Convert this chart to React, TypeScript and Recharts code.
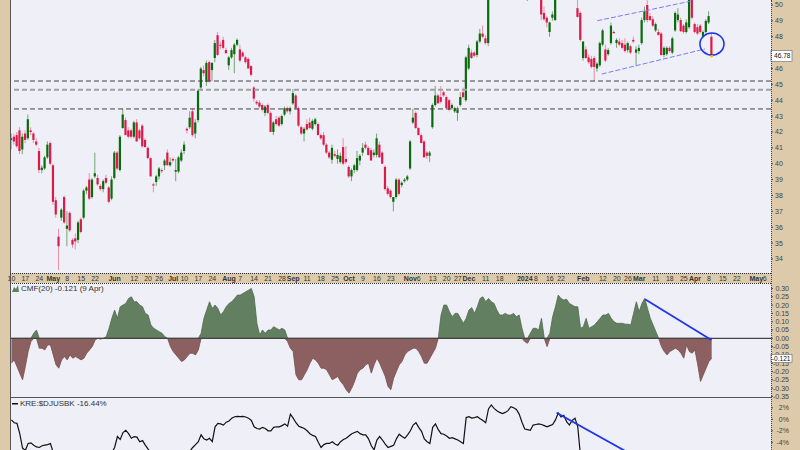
import React from "react";
import {
  Area,
  Bar,
  ComposedChart,
  Line,
  ReferenceDot,
  ReferenceLine,
  XAxis,
  YAxis,
} from "recharts";

// daily candles Apr 10 2023 .. Apr 9 2024 : [open, high, low, close]
const OHLC: [number, number, number, number][] = [
  // 0
  [41.5, 41.9, 40.9, 41.6], [41.7, 41.9, 41.2, 41.4], [41.8, 42.0, 41.0, 41.1], [42.1, 42.3, 40.6, 40.8], [40.9, 41.9, 40.6, 41.7],
  [41.9, 42.1, 41.3, 41.5], [41.6, 43.1, 41.5, 42.8], [42.1, 42.3, 41.8, 42.0], [41.9, 42.0, 41.3, 41.5], [41.4, 41.6, 41.1, 41.2],
  // 10
  [40.8, 41.0, 39.4, 39.6], [39.6, 39.9, 39.4, 39.75], [39.7, 40.5, 39.6, 40.4], [40.4, 41.4, 40.3, 41.2], [41.3, 41.4, 39.9, 40.0],
  [39.9, 40.0, 37.4, 37.6], [37.7, 37.9, 36.6, 36.8], [35.4, 35.9, 33.3, 34.8], [36.6, 37.2, 36.4, 37.1], [37.9, 38.0, 36.2, 36.3],
  // 20
  [35.9, 37.0, 34.8, 36.1], [36.9, 37.0, 35.7, 35.8], [35.2, 35.3, 34.7, 34.9], [35.3, 35.6, 34.6, 35.1], [35.2, 36.4, 35.0, 36.3],
  [36.5, 36.6, 35.6, 35.7], [36.6, 38.4, 36.5, 38.3], [38.3, 38.6, 38.1, 38.5], [39.0, 39.4, 37.7, 37.8], [37.9, 39.1, 37.8, 39.0],
  // 30
  [39.2, 40.7, 39.1, 39.4], [39.1, 39.3, 38.6, 38.7], [38.6, 38.7, 38.3, 38.4], [38.4, 39.0, 38.2, 38.9], [39.1, 39.3, 38.7, 38.8],
  [38.5, 38.6, 37.5, 37.6], [37.8, 39.2, 37.7, 39.0], [39.1, 40.8, 39.0, 40.7], [40.7, 40.8, 39.6, 39.7], [39.6, 41.8, 39.5, 41.7],
  // 40
  [42.25, 43.45, 42.2, 43.1], [42.75, 42.9, 41.8, 41.8], [42.1, 42.3, 41.6, 41.7], [42.1, 42.2, 41.6, 41.7], [41.7, 42.7, 41.6, 42.6],
  [42.6, 42.8, 41.4, 41.4], [42.1, 42.2, 41.5, 41.6], [42.4, 42.5, 41.0, 41.1], [41.5, 41.6, 41.0, 41.05], [41.0, 41.1, 40.3, 40.35],
  // 50
  [40.35, 40.4, 39.2, 39.2], [38.7, 38.8, 38.2, 38.65], [38.85, 39.3, 38.6, 39.2], [39.2, 39.8, 39.0, 39.7], [39.6, 39.7, 39.4, 39.55],
  [39.9, 40.3, 39.6, 40.2], [40.7, 40.9, 39.9, 39.9], [39.9, 40.4, 39.8, 40.1], [40.3, 40.4, 40.1, 40.2], [39.5, 40.3, 38.9, 39.6],
  // 60
  [39.5, 40.5, 39.4, 40.4], [40.2, 40.9, 40.1, 40.7], [40.8, 41.4, 40.6, 41.2], [42.2, 42.3, 41.9, 42.1], [42.3, 43.3, 42.2, 42.9],
  [43.3, 43.5, 41.7, 41.8], [41.9, 42.8, 41.6, 42.6], [42.75, 44.7, 42.6, 44.6], [44.8, 46.1, 44.6, 46.0], [45.9, 46.2, 45.5, 45.7],
  // 70
  [45.15, 46.5, 44.9, 46.35], [46.4, 46.5, 45.1, 45.2], [45.9, 46.4, 45.2, 46.35], [46.66, 47.8, 46.4, 47.6], [48.1, 48.3, 46.8, 46.85],
  [47.5, 47.7, 47.2, 47.45], [47.8, 48.0, 47.2, 47.3], [47.16, 47.3, 46.9, 46.97], [46.2, 46.8, 45.9, 46.7], [46.7, 47.3, 46.6, 47.16],
  // 80
  [46.9, 47.6, 45.7, 47.5], [47.5, 47.9, 47.4, 47.8], [47.2, 47.5, 46.4, 46.5], [47.0, 47.1, 46.7, 46.75], [46.7, 46.8, 46.3, 46.4],
  [46.6, 46.7, 46.0, 46.0], [46.15, 46.2, 45.5, 45.6], [44.8, 44.9, 43.9, 44.1], [43.9, 44.0, 43.7, 43.8], [43.85, 44.0, 43.5, 43.6],
  // 90
  [43.7, 43.8, 43.3, 43.4], [43.2, 43.7, 43.0, 43.6], [43.7, 43.8, 43.1, 43.2], [43.2, 43.3, 42.0, 42.0], [42.0, 42.7, 41.8, 42.6],
  [42.8, 43.0, 42.4, 42.5], [42.9, 43.0, 42.3, 42.4], [42.5, 43.1, 42.4, 43.0], [43.1, 43.6, 43.0, 43.5], [43.5, 43.6, 43.2, 43.3],
  // 100
  [43.3, 43.6, 43.1, 43.5], [43.8, 44.7, 43.7, 44.45], [44.3, 44.4, 43.4, 43.5], [43.5, 43.6, 42.3, 42.4], [42.3, 42.4, 41.8, 41.9],
  [41.9, 42.3, 41.4, 42.2], [42.5, 42.8, 42.1, 42.15], [42.6, 42.9, 42.2, 42.25], [42.2, 42.8, 42.1, 42.7], [42.5, 42.9, 42.4, 42.8],
  // 110
  [42.5, 42.6, 41.8, 41.8], [41.8, 41.9, 41.5, 41.6], [41.8, 42.0, 41.1, 41.2], [41.2, 41.3, 40.6, 40.7], [40.7, 40.8, 40.3, 40.4],
  [40.25, 41.2, 40.0, 41.0], [40.6, 40.8, 40.4, 40.5], [40.3, 40.9, 40.0, 40.55], [40.1, 40.7, 40.0, 40.5], [41.05, 41.6, 39.9, 40.0],
  // 120
  [40.3, 41.1, 40.0, 40.1], [39.8, 39.9, 39.1, 39.2], [39.2, 39.7, 38.9, 39.6], [39.6, 40.0, 39.4, 39.9], [39.6, 40.8, 39.5, 40.35],
  [40.2, 40.6, 39.9, 40.5], [40.7, 41.3, 40.5, 41.0], [41.2, 41.4, 40.9, 41.0], [41.0, 41.1, 40.5, 40.55], [40.85, 41.0, 40.2, 40.2],
  // 130
  [40.55, 40.9, 40.4, 40.7], [40.55, 41.9, 40.4, 41.6], [41.2, 41.4, 40.4, 40.4], [40.7, 40.8, 40.0, 40.0], [39.8, 39.9, 38.3, 38.4],
  [38.45, 38.6, 38.0, 38.1], [38.3, 38.4, 37.8, 37.9], [37.6, 37.9, 37.0, 37.9], [37.9, 39.1, 37.8, 39.0], [39.0, 39.1, 38.0, 38.1],
  // 140
  [38.65, 38.9, 38.5, 38.8], [38.9, 39.1, 38.8, 39.0], [39.0, 39.3, 38.9, 39.2], [39.7, 41.5, 39.6, 41.4], [42.6, 43.45, 42.5, 42.9],
  [43.2, 43.3, 42.2, 42.25], [42.25, 42.3, 41.8, 41.8], [41.8, 41.9, 41.3, 41.3], [41.4, 41.5, 40.4, 40.4], [40.7, 40.8, 40.3, 40.5],
  // 150
  [40.5, 40.8, 40.1, 40.7], [42.3, 43.8, 42.2, 43.7], [43.7, 44.9, 43.6, 44.3], [44.3, 44.4, 43.8, 43.8], [44.2, 44.9, 43.8, 43.9],
  [44.5, 44.6, 44.2, 44.3], [44.2, 44.3, 43.5, 43.5], [44.0, 44.1, 43.3, 43.4], [43.5, 43.8, 43.4, 43.7], [43.3, 43.6, 43.2, 43.5],
  // 160
  [43.2, 43.6, 42.7, 43.4], [43.7, 44.5, 43.6, 44.2], [44.5, 44.8, 44.1, 44.2], [44.0, 46.8, 43.9, 46.7], [46.0, 47.5, 45.9, 47.3],
  [47.0, 47.2, 46.6, 46.66], [47.0, 47.1, 46.7, 46.8], [46.85, 47.8, 46.7, 47.7], [47.7, 48.5, 47.6, 48.2], [48.2, 48.7, 47.9, 48.0],
  // 170
  [47.9, 48.1, 47.5, 47.6], [47.6, 50.9, 47.4, 50.8], [51.0, 53.3, 50.9, 53.0], [52.5, 52.8, 51.8, 52.1], [52.2, 52.7, 51.9, 52.5],
  [52.6, 54.0, 52.5, 53.8], [53.7, 53.8, 51.9, 52.0], [52.2, 53.2, 52.1, 53.0], [53.1, 53.7, 52.9, 53.5], [53.7, 54.6, 53.5, 54.4],
  // 180
  [54.4, 54.9, 54.2, 54.6], [54.4, 54.6, 53.8, 54.0], [53.9, 54.0, 52.3, 52.4], [52.4, 53.0, 52.0, 52.6], [52.5, 52.8, 50.6, 51.0],
  [50.7, 51.5, 50.25, 51.3], [51.5, 52.2, 51.2, 52.0], [51.9, 52.0, 51.4, 51.7], [51.5, 51.6, 50.8, 51.0], [51.1, 51.6, 50.8, 51.3],
  // 190
  [50.9, 51.4, 49.05, 49.4], [49.5, 49.9, 49.0, 49.1], [49.2, 49.3, 48.6, 48.9], [48.3, 48.95, 48.0, 48.9], [49.2, 49.6, 49.0, 49.4],
  [49.05, 50.8, 49.0, 50.6], [50.7, 51.3, 50.5, 51.1], [51.1, 51.3, 50.6, 50.9], [50.9, 51.1, 50.5, 50.7], [50.8, 51.7, 50.7, 51.5],
  // 200
  [51.5, 51.8, 51.1, 51.4], [51.4, 51.9, 51.2, 51.7], [51.6, 51.7, 50.5, 50.6], [49.8, 50.4, 49.2, 49.25], [49.5, 49.6, 47.7, 47.8],
  [46.66, 47.7, 46.5, 47.7], [47.2, 47.4, 46.6, 46.66], [46.7, 46.9, 46.3, 46.4], [46.6, 46.8, 46.0, 46.1], [46.66, 46.8, 45.2, 46.1],
  // 210
  [46.0, 46.4, 45.8, 46.3], [46.2, 47.7, 46.1, 47.6], [47.5, 48.5, 47.4, 48.4], [47.2, 47.5, 46.4, 46.5], [46.9, 47.3, 46.8, 47.16],
  [47.6, 48.9, 47.5, 48.7], [48.3, 48.4, 48.2, 48.25], [47.6, 47.9, 47.3, 47.8], [47.7, 47.9, 47.4, 47.5], [47.6, 47.8, 47.2, 47.3],
  // 220
  [47.5, 47.9, 47.0, 47.1], [47.16, 47.7, 47.0, 47.6], [47.4, 47.5, 46.9, 47.0], [47.8, 48.0, 47.6, 47.7], [47.0, 47.4, 46.2, 47.2],
  [47.1, 47.5, 46.9, 47.3], [47.6, 49.2, 47.5, 49.05], [49.05, 49.9, 48.9, 49.6], [50.0, 50.3, 48.9, 49.05], [49.3, 49.5, 49.0, 49.05],
  // 230
  [49.1, 49.3, 48.6, 48.7], [48.4, 48.9, 48.3, 48.8], [48.3, 48.5, 48.1, 48.1], [48.2, 48.3, 46.8, 46.85], [46.85, 47.4, 46.7, 47.3],
  [46.9, 47.4, 46.8, 47.3], [47.3, 47.4, 47.0, 47.1], [47.0, 48.0, 46.9, 47.9], [48.4, 49.6, 48.3, 49.5], [49.05, 49.8, 48.9, 49.4],
  // 240
  [49.05, 49.2, 48.3, 48.35], [48.7, 48.8, 48.2, 48.3], [48.3, 49.1, 48.2, 48.9], [48.6, 50.6, 48.5, 50.4], [50.6, 50.8, 49.1, 49.2],
  [48.8, 48.9, 48.2, 48.3], [48.6, 48.8, 48.1, 48.2], [48.7, 48.8, 48.2, 48.3], [48.0, 48.4, 47.9, 48.3], [48.3, 49.1, 48.2, 49.0],
  // 250
  [48.9, 49.6, 48.8, 49.3], [48.0, 48.25, 46.7, 46.78],
];

// Chaikin money flow (20)
const CMF = [
  -0.15, -0.13, -0.17, -0.21, -0.25, -0.17, -0.08, -0.02, 0.03, 0.05,
  -0.06, -0.06, -0.07, -0.04, -0.04, -0.1, -0.16, -0.18, -0.13, -0.11,
  -0.13, -0.1, -0.12, -0.11, -0.12, -0.13, -0.12, -0.09, -0.07, -0.05,
  -0.01, 0.0, -0.005, 0.0, 0.01, 0.06, 0.12, 0.17, 0.12, 0.19,
  0.2, 0.21, 0.24, 0.25, 0.22, 0.22, 0.2, 0.19, 0.15, 0.14,
  0.08, 0.06, 0.05, 0.04, 0.03, 0.01, 0.0, -0.05, -0.08, -0.1,
  -0.12, -0.14, -0.13, -0.11, -0.09, -0.09, -0.1, -0.07, 0.03, 0.12,
  0.17, 0.22, 0.18, 0.2, 0.18, 0.14, 0.16, 0.19, 0.21, 0.22,
  0.24, 0.26, 0.26, 0.27, 0.28, 0.29, 0.3, 0.25, 0.09, 0.02,
  0.05, 0.03, 0.05, 0.05, 0.07, 0.06, 0.05, 0.06, 0.05, -0.02,
  -0.06, -0.08, -0.22, -0.25, -0.25, -0.22, -0.19, -0.15, -0.12, -0.13,
  -0.15, -0.18, -0.18, -0.19, -0.22, -0.25, -0.24, -0.23, -0.26, -0.28,
  -0.31, -0.33, -0.3, -0.26, -0.21, -0.19, -0.18, -0.16, -0.15, -0.21,
  -0.16, -0.12, -0.15, -0.19, -0.23, -0.29, -0.31, -0.24, -0.2, -0.16,
  -0.14, -0.1, -0.08, -0.07, -0.06, -0.06, -0.08, -0.11, -0.15, -0.15,
  -0.12, -0.09, -0.06, 0.0, 0.14, 0.2, 0.2, 0.16, 0.13, 0.15,
  0.15, 0.12, 0.09, 0.12, 0.17, 0.185, 0.15, 0.19, 0.24, 0.25,
  0.22, 0.24, 0.22, 0.21, 0.17, 0.14, 0.14, 0.15, 0.14, 0.14,
  0.15, 0.13, 0.14, 0.06, -0.02, -0.03, 0.03, 0.06, 0.06, 0.05,
  0.12, 0.0, -0.05, 0.03, 0.13, 0.19, 0.26, 0.24, 0.23, 0.235,
  0.21, 0.2, 0.19, 0.19, 0.06, 0.07, 0.12, 0.06, 0.07, 0.08,
  0.1, 0.12, 0.14, 0.14, 0.15, 0.12, 0.1, 0.09, 0.09, 0.09,
  0.085, 0.085, 0.08, 0.15, 0.22, 0.16, 0.21, 0.24, 0.18, 0.12,
  0.08, 0.04, 0.0, -0.05, -0.08, -0.1, -0.08, -0.07, -0.06, -0.07,
  -0.09, -0.12, -0.04, -0.08, -0.09, -0.07, -0.16, -0.26, -0.22, -0.18,
  -0.14, -0.121,
];

// KRE:$DJUSBK relative performance, %
const KRE_RATIO = [
  -0.1, -0.6, -0.7, -2.5, -5.0, -5.4, -4.2, -4.1, -4.5, -4.8,
  -4.9, -4.6, -4.5, -4.4, -4.2, -5.8, -6.5, -8.0, -7.2, -7.5,
  -7.8, -8.2, -8.6, -8.4, -7.9, -8.1, -7.4, -7.0, -7.3, -6.8,
  -6.5, -6.7, -6.9, -6.4, -6.6, -6.9, -5.8, -4.9, -3.0, -3.5,
  -2.3, -1.9, -2.5, -3.3, -3.0, -3.1, -3.9, -3.7, -4.5, -5.2,
  -5.8, -6.4, -6.0, -6.3, -6.7, -6.2, -6.5, -6.9, -7.1, -6.8,
  -6.6, -6.3, -6.0, -5.7, -5.5, -4.9, -4.4, -3.9, -2.7, -3.4,
  -3.6, -3.3, -3.9, -1.3, -0.7, -0.8, -1.0, -0.5, -0.3, 0.2,
  0.45, 0.5, 0.45, 0.5, 0.4, 0.2, -0.2, -1.3, -1.6, -1.7,
  -1.4, -1.6, -2.0, -2.0, -1.4, -1.3, -1.3, -1.1, -0.8, -1.2,
  0.9, 0.2, -0.6, -1.2, -1.4, -1.6, -2.0, -2.5, -2.8, -3.0,
  -4.0, -4.9, -4.4, -4.2, -4.2, -3.9, -4.3, -4.5, -3.9, -3.5,
  -3.3, -2.9, -2.5, -2.3, -2.1, -2.5, -2.7, -2.7, -3.4, -4.6,
  -5.3, -3.6, -3.0, -3.6, -4.3, -4.9, -4.7, -4.5, -3.4, -2.6,
  -3.0, -3.3, -2.7, -2.0, -1.0, -0.6, -1.4, -2.1, -3.4, -3.9,
  -4.2, -1.4, -0.8, -1.8, -2.5, -2.6, -2.9, -3.3, -3.2, -3.4,
  -3.6, -3.9, -4.2, 0.3, 0.45, 0.2, 0.3, 0.45, 0.1, -0.2,
  -0.6, 1.8, 2.5, 1.9, 1.5, 1.2, 1.0, 1.2, 1.5, 2.2,
  2.0, 1.7, 0.9, -0.5, -1.7, -1.8, -1.9, -1.0, -0.9, -0.8,
  -0.9, -1.1, -1.3, -1.1, -0.9, -0.1, 1.1, 0.4, 0.7, -0.4,
  -1.0, -0.2, 0.2, -1.3, -6.5, -8.0, -8.8, -9.5, -11.2, -12.0,
  -11.4, -10.8, -11.6, -12.3, -11.9, -12.8, -13.1, -12.6, -13.4, -13.9,
  -13.2, -12.9, -13.6, -14.2, -13.8, -14.5, -14.1, -14.8, -15.2, -14.7,
  -15.1, -15.6, -15.3, -15.8, -16.1, -15.7, -16.0, -16.3, -15.9, -16.2,
  -16.5, -16.1, -16.6, -16.2, -16.5, -16.7, -16.3, -16.0, -16.2, -16.5,
  -16.6, -16.44,
];

// trading-day index of each date label
const TICK_IDX = [
  0, 5, 10, 15, 20, 25, 30, 37, 44, 49, 53, 58, 62, 67, 72, 78, 82, 87, 92, 97,
  101, 106, 111, 116, 121, 126, 131, 136, 143, 146, 151, 156, 160, 164, 170, 175,
  184, 188, 193, 197, 205, 212, 217, 221, 225, 231, 236, 241, 245, 250, 255, 260, 267, 270,
];
const TICK_LABELS = [
  "10", "17", "24", "May", "8", "15", "22", "Jun", "12", "20", "26", "Jul", "10", "17", "24", "Aug", "7", "14", "21", "28",
  "Sep", "11", "18", "25", "Oct", "9", "16", "23", "Nov", "6", "13", "20", "27", "Dec", "11", "18",
  "2024", "8", "16", "22", "Feb", "12", "20", "26", "Mar", "11", "18", "25", "Apr", "8", "15", "22", "May", "6",
];

const PRICE_TICKS = [34, 35, 36, 37, 38, 39, 40, 41, 42, 43, 44, 45, 46, 47, 48, 49, 50];
const CMF_TICKS = [0.3, 0.25, 0.2, 0.15, 0.1, 0.05, 0, -0.05, -0.1, -0.15, -0.2, -0.25, -0.3, -0.35];
const RATIO_TICKS = [2, 0, -2, -4];

const SUPPORT = [45.21, 44.66, 43.45];
const LAST_PRICE = 46.78;
const LAST_CMF = -0.121;

const CHANNEL_UP = [{ x: 210, y: 49.01 }, { x: 244, y: 50.26 }];
const CHANNEL_DN = [{ x: 211.6, y: 45.65 }, { x: 248.6, y: 47.23 }];
const CMF_TREND = [{ x: 227.1, y: 0.235 }, { x: 250.9, y: -0.01 }];
const RATIO_TREND = [{ x: 195.4, y: 1.15 }, { x: 232, y: -8.75 }];
const CIRCLE = { x: 251.1, y: 47.54 };

const X_DOMAIN: [number, number] = [-0.5, 272.26];

const BEIGE = "#dccaab";
const PLOT_BG = "#efeff7";
const GREEN = "#0a6b0a";
const GREEN_WICK = "#74a474";
const RED = "#dc1a4a";
const RED_WICK = "#e890a6";
const BLUE = "#1f36e6";
const FONT = '"Liberation Sans", Arial, sans-serif';

const priceData = OHLC.map((d, i) => ({ i, range: [d[2], d[1]], ohlc: d }));
const cmfData = CMF.map((v, i) => ({ i, pos: v > 0 ? v : 0, neg: v < 0 ? v : 0 }));
const ratioData = KRE_RATIO.map((v, i) => ({ i, v }));

const Candle = (p: any) => {
  const { x, y, width, height, payload } = p;
  if (x == null || y == null || !payload) return null;
  const [o, h, l, c] = payload.ohlc as number[];
  const top = Math.min(y, y + height);
  const span = Math.abs(height);
  const cx = x + width / 2;
  const k = h > l ? span / (h - l) : 0;
  const yo = top + (h - o) * k;
  const yc = top + (h - c) * k;
  const up = c >= o;
  return (
    <g>
      <line x1={cx} x2={cx} y1={top} y2={top + span} stroke={up ? GREEN_WICK : RED_WICK} strokeWidth={1} />
      <rect x={cx - 1.1} y={Math.min(yo, yc)} width={2.2} height={Math.max(Math.abs(yc - yo), 1.2)} fill={up ? GREEN : RED} />
    </g>
  );
};

const DateTick = ({ x, y, payload }: any) => {
  const label = TICK_LABELS[TICK_IDX.indexOf(payload.value)] ?? "";
  const bold = isNaN(Number(label)) || label.length === 4;
  return (
    <text x={x} y={y + 8} textAnchor="middle" fontSize={7} fontWeight={bold ? 700 : 400} fill="#333" fontFamily={FONT}>
      {label}
    </text>
  );
};

// the last-price tag sits on top of the "47" label, as in the original
const PriceTick = ({ x, y, payload }: any) =>
  payload.value === 47 ? null : (
    <text x={x + 2} y={y + 2.5} fontSize={7} fill="#444" fontFamily={FONT}>
      {payload.value}
    </text>
  );

const CmfTick = ({ x, y, payload }: any) => (
  <text x={x + 16} y={y + 2.5} textAnchor="end" fontSize={7} fill="#444" fontFamily={FONT}>
    {payload.value.toFixed(2)}
  </text>
);

const RatioTick = ({ x, y, payload }: any) => (
  <text x={x + 16} y={y + 2.5} textAnchor="end" fontSize={7} fill="#444" fontFamily={FONT}>
    {payload.value}%
  </text>
);

const tag = (text: string, h: number) => (p: any) => (
  <g>
    <rect x={p.cx} y={p.cy - h / 2} width={21} height={h} fill="#fff" stroke="#777" strokeWidth={0.7} />
    <text x={p.cx + 19.5} y={p.cy + 2.3} textAnchor="end" fontSize={6.6} fill="#111" fontFamily={FONT}>
      {text}
    </text>
  </g>
);

const abs = (left: number, top: number): React.CSSProperties => ({ position: "absolute", left, top });

export default function App() {
  return (
    <div style={{ position: "absolute", left: 0, top: 0, width: 800, height: 450, overflow: "hidden", background: BEIGE, fontFamily: FONT }}>
      {/* panel backgrounds */}
      <div style={{ ...abs(10, 0), width: 761, height: 273, background: PLOT_BG }} />
      <div style={{ ...abs(10, 283), width: 761, height: 170, background: PLOT_BG }} />

      {/* price panel + date axis */}
      <div style={abs(0, 0)}>
        <ComposedChart width={800} height={283} data={priceData} margin={{ top: 0, right: 0, bottom: 0, left: 10 }}>
          <XAxis
            dataKey="i"
            type="number"
            domain={X_DOMAIN}
            allowDataOverflow
            ticks={TICK_IDX}
            interval={0}
            tick={DateTick}
            tickLine={false}
            axisLine={false}
            tickSize={0}
            tickMargin={0}
            height={10}
          />
          <YAxis
            orientation="right"
            width={29}
            domain={[33.113, 50.315]}
            allowDataOverflow
            ticks={PRICE_TICKS}
            interval={0}
            tick={PriceTick}
            tickSize={2}
            tickMargin={0}
            axisLine={false}
            tickLine={{ stroke: "#555" }}
          />
          <ReferenceLine y={SUPPORT[0]} stroke="#444" strokeDasharray="5 3" />
          <ReferenceLine y={SUPPORT[1]} stroke="#a0a0a0" strokeWidth={2} strokeDasharray="5 3" />
          <ReferenceLine y={SUPPORT[2]} stroke="#444" strokeDasharray="5 3" />
          <Bar dataKey="range" barSize={2.2} shape={Candle} isAnimationActive={false} />
          <ReferenceLine segment={CHANNEL_UP} stroke="#7c7cf0" strokeDasharray="5 2" />
          <ReferenceLine segment={CHANNEL_DN} stroke="#7c7cf0" strokeDasharray="5 2" />
          <ReferenceDot
            x={CIRCLE.x}
            y={CIRCLE.y}
            r={11}
            shape={(p: any) => <ellipse cx={p.cx} cy={p.cy} rx={12} ry={11} fill="none" stroke={BLUE} strokeWidth={1.6} />}
          />
          <ReferenceDot
            x={251}
            y={LAST_PRICE}
            r={2}
            shape={(p: any) => <rect x={p.cx - 1.3} y={p.cy - 1} width={2.6} height={2} fill="#f2c200" />}
          />
          <ReferenceDot x={X_DOMAIN[1]} y={LAST_PRICE} r={1} ifOverflow="visible" shape={tag("46.78", 11)} />
        </ComposedChart>
      </div>

      {/* CMF panel (extra bottom margin keeps the lowest label inside the svg) */}
      <div style={abs(0, 283)}>
        <ComposedChart width={800} height={121} data={cmfData} margin={{ top: 0, right: 0, bottom: 6, left: 10 }}>
          <XAxis dataKey="i" type="number" domain={X_DOMAIN} allowDataOverflow hide />
          <YAxis
            orientation="right"
            width={29}
            domain={[-0.3596, 0.333]}
            allowDataOverflow
            ticks={CMF_TICKS}
            interval={0}
            tick={CmfTick}
            tickSize={2}
            tickMargin={0}
            axisLine={false}
            tickLine={{ stroke: "#555" }}
          />
          <Area dataKey="pos" type="linear" baseValue={0} fill="#627f60" fillOpacity={1} stroke="#4f6b4f" strokeWidth={0.8} isAnimationActive={false} />
          <Area dataKey="neg" type="linear" baseValue={0} fill="#8c6060" fillOpacity={1} stroke="#764c4c" strokeWidth={0.8} isAnimationActive={false} />
          <ReferenceLine y={0} stroke="#444" strokeWidth={1.2} />
          <ReferenceLine segment={CMF_TREND} stroke={BLUE} strokeWidth={1.8} />
        </ComposedChart>
      </div>

      {/* KRE:$DJUSBK panel */}
      <div style={abs(0, 398)}>
        <ComposedChart width={800} height={122} data={ratioData} margin={{ top: 0, right: 0, bottom: 0, left: 10 }}>
          <XAxis dataKey="i" type="number" domain={X_DOMAIN} allowDataOverflow hide />
          <YAxis
            orientation="right"
            width={29}
            domain={[-17.51, 3.704]}
            allowDataOverflow
            ticks={RATIO_TICKS}
            interval={0}
            tick={RatioTick}
            tickSize={2}
            tickMargin={0}
            axisLine={false}
            tickLine={{ stroke: "#555" }}
          />
          <Line dataKey="v" type="linear" stroke="#111" strokeWidth={1.2} dot={false} isAnimationActive={false} />
          <ReferenceLine segment={RATIO_TREND} stroke={BLUE} strokeWidth={1.8} />
        </ComposedChart>
      </div>

      {/* CMF last-value tag drawn above the axis labels */}
      <div style={abs(0, 283)}>
        <ComposedChart width={800} height={121} data={cmfData} margin={{ top: 0, right: 29, bottom: 6, left: 10 }}>
          <XAxis dataKey="i" type="number" domain={X_DOMAIN} allowDataOverflow hide />
          <YAxis domain={[-0.3596, 0.333]} allowDataOverflow hide />
          <ReferenceDot x={X_DOMAIN[1]} y={LAST_CMF} r={1} ifOverflow="visible" shape={tag("-0.121", 8)} />
        </ComposedChart>
      </div>

      {/* frame lines */}
      <div style={{ ...abs(10, 0), width: 1, height: 450, background: "#555" }} />
      <div style={{ ...abs(771, 0), width: 0, height: 450, borderLeft: "1px dotted #444" }} />
      <div style={{ ...abs(10, 273), width: 761, height: 0, borderTop: "1px dotted #333" }} />
      <div style={{ ...abs(10, 283), width: 761, height: 0, borderTop: "1px dotted #333" }} />
      <div style={{ ...abs(10, 397), width: 761, height: 1, background: "#555" }} />

      {/* panel titles */}
      <div style={{ ...abs(12, 284), fontSize: 8, color: "#333", lineHeight: "9px", whiteSpace: "nowrap", display: "flex", alignItems: "center", gap: 2 }}>
        <svg width={7} height={7}>
          <polygon points="0,7 2,2 4,4 6,0 7,7" fill="#5f7f5f" />
        </svg>
        <span>CMF(20) -0.121 (9 Apr)</span>
      </div>
      <div style={{ ...abs(12, 399), fontSize: 8, color: "#333", lineHeight: "9px", whiteSpace: "nowrap", display: "flex", alignItems: "center", gap: 2 }}>
        <svg width={6} height={7}>
          <rect x={0} y={3} width={6} height={1.5} fill="#111" />
        </svg>
        <span>KRE:$DJUSBK -16.44%</span>
      </div>
    </div>
  );
}
